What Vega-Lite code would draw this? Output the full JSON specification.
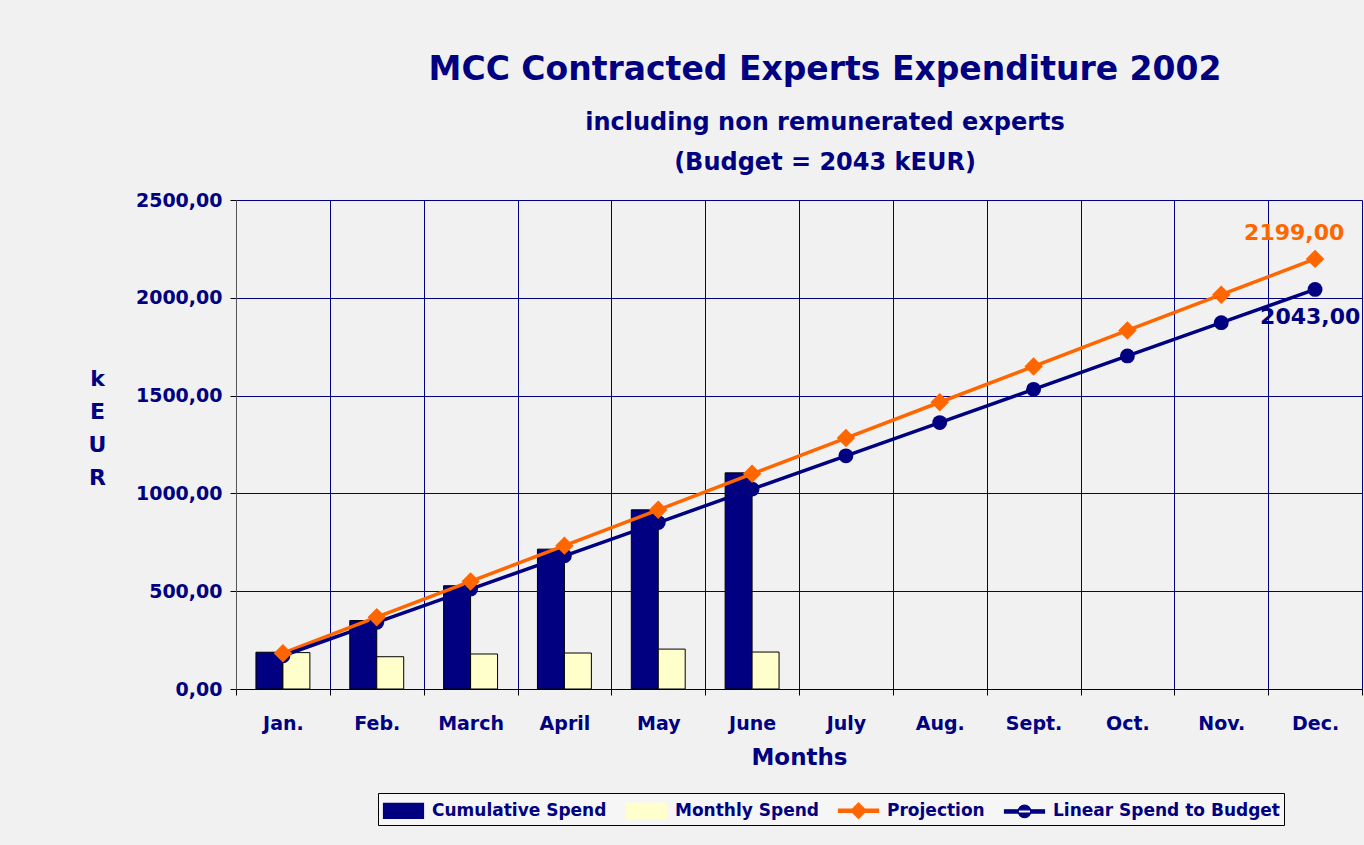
{
  "$schema": "https://vega.github.io/schema/vega-lite/v6.json",
  "width": 1126,
  "height": 489,
  "autosize": {"type": "none"},
  "padding": {"left": 236, "top": 200, "right": 2, "bottom": 156},
  "background": "#f1f1f1",
  "config": {
    "font": "DejaVu Sans",
    "locale": {"number": {"decimal": ",", "thousands": ".", "grouping": [3], "currency": ["", " €"]}},
    "view": {"stroke": null}
  },
  "title": {
    "text": "MCC Contracted Experts Expenditure 2002",
    "subtitle": ["including non remunerated experts", "(Budget = 2043 kEUR)"],
    "font": "DejaVu Sans",
    "subtitleFont": "DejaVu Sans",
    "fontSize": 33,
    "fontWeight": "bold",
    "color": "#000080",
    "subtitleFontSize": 24,
    "subtitleFontWeight": "bold",
    "subtitleColor": "#000080",
    "subtitleLineHeight": 40,
    "subtitlePadding": 24,
    "anchor": "middle",
    "dx": 26,
    "offset": 16
  },
  "datasets": {
    "bars": [
      {"month": "Jan.", "series": "Cumulative Spend", "value": 188},
      {"month": "Jan.", "series": "Monthly Spend", "value": 186},
      {"month": "Feb.", "series": "Cumulative Spend", "value": 350},
      {"month": "Feb.", "series": "Monthly Spend", "value": 165},
      {"month": "March", "series": "Cumulative Spend", "value": 528},
      {"month": "March", "series": "Monthly Spend", "value": 179},
      {"month": "April", "series": "Cumulative Spend", "value": 715},
      {"month": "April", "series": "Monthly Spend", "value": 184},
      {"month": "May", "series": "Cumulative Spend", "value": 916},
      {"month": "May", "series": "Monthly Spend", "value": 204},
      {"month": "June", "series": "Cumulative Spend", "value": 1105},
      {"month": "June", "series": "Monthly Spend", "value": 189}
    ],
    "lines": [
      {"month": "Jan.", "series": "Projection", "value": 183},
      {"month": "Feb.", "series": "Projection", "value": 367},
      {"month": "March", "series": "Projection", "value": 550},
      {"month": "April", "series": "Projection", "value": 733},
      {"month": "May", "series": "Projection", "value": 916},
      {"month": "June", "series": "Projection", "value": 1100},
      {"month": "July", "series": "Projection", "value": 1283},
      {"month": "Aug.", "series": "Projection", "value": 1466},
      {"month": "Sept.", "series": "Projection", "value": 1649},
      {"month": "Oct.", "series": "Projection", "value": 1833},
      {"month": "Nov.", "series": "Projection", "value": 2016},
      {"month": "Dec.", "series": "Projection", "value": 2199},
      {"month": "Jan.", "series": "Linear Spend to Budget", "value": 170},
      {"month": "Feb.", "series": "Linear Spend to Budget", "value": 341},
      {"month": "March", "series": "Linear Spend to Budget", "value": 511},
      {"month": "April", "series": "Linear Spend to Budget", "value": 681},
      {"month": "May", "series": "Linear Spend to Budget", "value": 851},
      {"month": "June", "series": "Linear Spend to Budget", "value": 1022},
      {"month": "July", "series": "Linear Spend to Budget", "value": 1192},
      {"month": "Aug.", "series": "Linear Spend to Budget", "value": 1362},
      {"month": "Sept.", "series": "Linear Spend to Budget", "value": 1532},
      {"month": "Oct.", "series": "Linear Spend to Budget", "value": 1703},
      {"month": "Nov.", "series": "Linear Spend to Budget", "value": 1873},
      {"month": "Dec.", "series": "Linear Spend to Budget", "value": 2043}
    ]
  },
  "encoding": {
    "x": {
      "field": "month",
      "type": "nominal",
      "sort": ["Jan.", "Feb.", "March", "April", "May", "June", "July", "Aug.", "Sept.", "Oct.", "Nov.", "Dec."],
      "scale": {"paddingInner": 0, "paddingOuter": 0},
      "axis": {
        "tickBand": "extent",
        "labelAngle": 0,
        "labelFont": "DejaVu Sans",
        "labelFontSize": 19,
        "labelFontWeight": "bold",
        "labelColor": "#000080",
        "labelPadding": 19,
        "tickSize": 6,
        "tickColor": "black",
        "domainColor": "black",
        "grid": true,
        "gridColor": "#000080",
        "gridWidth": 1,
        "title": "Months",
        "titleFont": "DejaVu Sans",
        "titleFontSize": 23,
        "titleFontWeight": "bold",
        "titleColor": "#000080",
        "titlePadding": 13
      }
    },
    "y": {
      "field": "value",
      "type": "quantitative",
      "scale": {"domain": [0, 2500]},
      "axis": {
        "values": [0, 500, 1000, 1500, 2000, 2500],
        "format": ".2f",
        "labelFont": "DejaVu Sans",
        "labelFontSize": 19,
        "labelFontWeight": "bold",
        "labelColor": "#000080",
        "labelPadding": 8,
        "tickSize": 6,
        "tickColor": "black",
        "domainColor": "#555555",
        "grid": true,
        "gridColor": "#000080",
        "gridWidth": 1,
        "title": ["k", "E", "U", "R"],
        "titleFont": "DejaVu Sans",
        "titleAngle": 0,
        "titleFontSize": 22,
        "titleFontWeight": "bold",
        "titleColor": "#000080",
        "titleLineHeight": 33,
        "titleX": -139,
        "titleY": 168,
        "titleBaseline": "top",
        "titleAlign": "center"
      }
    }
  },
  "layer": [
    {
      "data": {"name": "bars"},
      "mark": {"type": "bar", "stroke": "black", "strokeWidth": 1},
      "encoding": {
        "xOffset": {
          "field": "series",
          "type": "nominal",
          "scale": {"domain": ["Cumulative Spend", "Monthly Spend"], "paddingInner": 0, "paddingOuter": 0.74}
        },
        "color": {
          "field": "series",
          "type": "nominal",
          "scale": {
            "domain": ["Cumulative Spend", "Monthly Spend", "Projection", "Linear Spend to Budget"],
            "range": ["#000080", "#ffffcc", "#ff6600", "#000080"]
          },
          "legend": {
            "orient": "none",
            "legendX": 142,
            "legendY": 593,
            "direction": "horizontal",
            "columns": 4,
            "title": null,
            "labelFont": "DejaVu Sans",
            "labelFontSize": 17,
            "labelFontWeight": "bold",
            "labelColor": "#000080",
            "labelLimit": 400,
            "symbolSize": 625,
            "symbolOffset": 8,
            "labelOffset": 15,
            "columnPadding": 17,
            "padding": 4,
            "strokeColor": "black",
            "fillColor": "#f6f6f6",
            "symbolType": "M-1.6,-0.6H1.6V0.6H-1.6Z",
            "symbolStrokeColor": "black",
            "symbolStrokeWidth": 1,
            "symbolOpacity": 1,
            "encode": {
              "symbols": {
                "update": {
                  "shape": {"signal": "(datum.value == 'Cumulative Spend' || datum.value == 'Monthly Spend') ? 'M-1.6,-0.6H1.6V0.6H-1.6Z' : datum.value == 'Projection' ? 'M-1.6,-0.13H1.6V0.13H-1.6Z M0,-0.62L0.62,0L0,0.62L-0.62,0Z' : 'M-1.6,-0.13H1.6V0.13H-1.6Z M-0.5,0A0.5,0.5 0 1,0 0.5,0A0.5,0.5 0 1,0 -0.5,0Z'"},
                  "fill": {"signal": "datum.value == 'Cumulative Spend' ? '#000080' : datum.value == 'Monthly Spend' ? '#ffffcc' : datum.value == 'Projection' ? '#ff6600' : '#000080'"},
                  "stroke": {"signal": "(datum.value == 'Cumulative Spend' || datum.value == 'Monthly Spend') ? '#000000' : datum.value == 'Projection' ? '#ff6600' : '#000080'"},
                  "strokeWidth": {"value": 1.2},
                  "strokeOpacity": {"value": 1},
                  "opacity": {"value": 1},
                  "fillOpacity": {"value": 1}
                }
              }
            }
          }
        }
      }
    },
    {
      "data": {"name": "lines"},
      "mark": {"type": "line", "strokeWidth": 3.5},
      "encoding": {
        "color": {"field": "series", "type": "nominal"}
      }
    },
    {
      "data": {"name": "lines"},
      "transform": [{"filter": "datum.series == 'Linear Spend to Budget'"}],
      "mark": {"type": "point", "filled": true, "size": 220, "opacity": 1, "shape": "circle"},
      "encoding": {
        "color": {"field": "series", "type": "nominal"}
      }
    },
    {
      "data": {"name": "lines"},
      "transform": [{"filter": "datum.series == 'Projection'"}],
      "mark": {"type": "point", "filled": true, "size": 340, "opacity": 1, "shape": "diamond"},
      "encoding": {
        "color": {"field": "series", "type": "nominal"}
      }
    },
    {
      "data": {"name": "lines"},
      "transform": [{"filter": "datum.month == 'Dec.' && datum.series == 'Projection'"}],
      "mark": {"type": "text", "align": "left", "baseline": "middle", "dx": -71, "dy": -26, "fontSize": 22, "fontWeight": "bold", "color": "#ff6600"},
      "encoding": {"text": {"field": "value", "type": "quantitative", "format": ".2f"}}
    },
    {
      "data": {"name": "lines"},
      "transform": [{"filter": "datum.month == 'Dec.' && datum.series == 'Linear Spend to Budget'"}],
      "mark": {"type": "text", "align": "left", "baseline": "middle", "dx": -55, "dy": 28, "fontSize": 22, "fontWeight": "bold", "color": "#000080"},
      "encoding": {"text": {"field": "value", "type": "quantitative", "format": ".2f"}}
    }
  ]
}
